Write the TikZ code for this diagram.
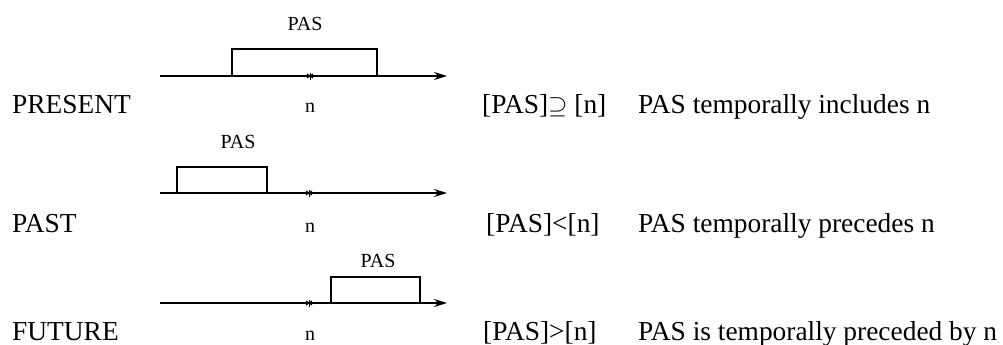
\documentclass[tikz,border=0pt]{standalone}
\usepackage{fontspec}
\setmainfont{Liberation Serif}
\usetikzlibrary{arrows.meta}
\begin{document}
\begin{tikzpicture}[x=1pt,y=-1pt,
  big/.style={font=\fontsize{27.4}{30}\selectfont, inner sep=0pt, anchor=base west},
  small/.style={font=\fontsize{20}{22}\selectfont, inner sep=0pt, anchor=base},
  timeaxis/.style={line width=1.8pt, -{Stealth[length=13pt,width=8pt]}},
  interval/.style={line width=1.6pt},
  nowmark/.style={line width=1pt},
]
\useasboundingbox (0,0) rectangle (1003,345);
% small asterisk marking the moment n on an axis
\newcommand\nowstar[1]{%
  \draw[nowmark] (#1) ++(0,-3.5) -- ++(0,7);
  \draw[nowmark] (#1) ++(-3,-2) -- ++(6,4);
  \draw[nowmark] (#1) ++(-3,2) -- ++(6,-4);}

% ---- PRESENT ----
\coordinate (s1) at (160,76);
\coordinate (e1) at (447,76);
\coordinate (l1) at (232,76);
\coordinate (r1) at (377,76);
\coordinate (m1) at (310,76);
\draw[timeaxis] (s1) -- (e1);
\draw[interval] (l1) -- ++(0,-27) -| (r1);
\nowstar{m1}
\node[small] (p1) at (305,31) {PAS};
\node[small] (n1) at (310,112) {n};
\node[big] (t1) at (12,113) {PRESENT};
\node[big] (f1) at (482,113) {[PAS]$\supseteq$ [n]};
\node[big] (d1) at (638,113) {PAS temporally includes n};

% ---- PAST ----
\coordinate (s2) at (160,193);
\coordinate (e2) at (447,193);
\coordinate (l2) at (177,193);
\coordinate (r2) at (267,193);
\coordinate (m2) at (309,193);
\draw[timeaxis] (s2) -- (e2);
\draw[interval] (l2) -- ++(0,-26) -| (r2);
\nowstar{m2}
\node[small] (p2) at (238,148) {PAS};
\node[small] (n2) at (310,232) {n};
\node[big] (t2) at (12,232) {PAST};
\node[big] (f2) at (486,232) {[PAS]<[n]};
\node[big] (d2) at (638,232) {PAS temporally precedes n};

% ---- FUTURE ----
\coordinate (s3) at (160,303);
\coordinate (e3) at (447,303);
\coordinate (l3) at (331,303);
\coordinate (r3) at (420,303);
\coordinate (m3) at (309,303);
\draw[timeaxis] (s3) -- (e3);
\draw[interval] (l3) -- ++(0,-26) -| (r3);
\nowstar{m3}
\node[small] (p3) at (378,267) {PAS};
\node[small] (n3) at (310,340) {n};
\node[big] (t3) at (12,340) {FUTURE};
\node[big] (f3) at (483,340) {[PAS]>[n]};
\node[big] (d3) at (638,340) {PAS is temporally preceded by n};
\end{tikzpicture}
\end{document}
